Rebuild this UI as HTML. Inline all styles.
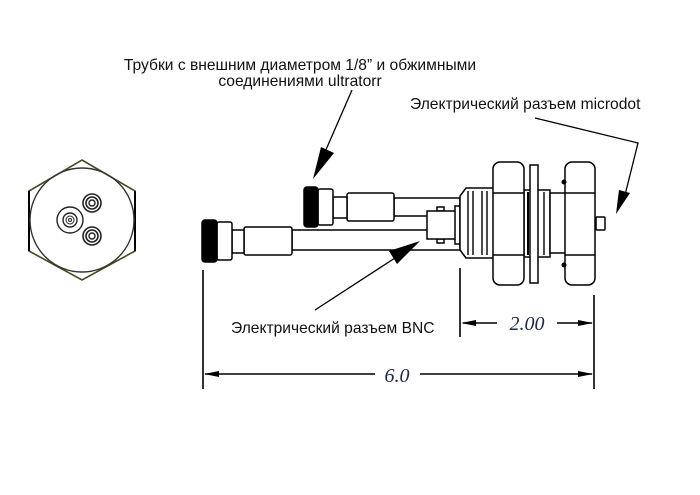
<!DOCTYPE html>
<html><head><meta charset="utf-8"><style>
html,body{margin:0;padding:0;background:#fff;}
svg{display:block;}
.lbl{font-family:"Liberation Sans",sans-serif;font-size:15.6px;fill:#111;}
.dim{font-family:"Liberation Serif",serif;font-style:italic;font-size:20px;fill:#1a2747;}
</style></head><body>
<svg width="700" height="495" viewBox="0 0 700 495" xmlns="http://www.w3.org/2000/svg">
<rect width="700" height="495" fill="#fff"/>
<!-- end view -->
<polygon points="82,160 135,191 135,251 82,280 29,251 29,191" fill="none" stroke="#4a4a20" stroke-width="1.6"/>
<line x1="29" y1="191" x2="29" y2="251" stroke="#000" stroke-width="2"/>
<line x1="135" y1="191" x2="135" y2="251" stroke="#000" stroke-width="2"/>
<circle cx="82" cy="220" r="52" fill="none" stroke="#333" stroke-width="1.4"/>
<g fill="none" stroke="#222">
<circle cx="70" cy="220" r="13" stroke-width="1.4"/>
<circle cx="70" cy="220" r="7" stroke-width="1.4"/>
<circle cx="70" cy="220" r="4" stroke-width="1"/>
<circle cx="70" cy="220" r="1.5" stroke-width="1"/>
<circle cx="92" cy="203" r="9" stroke-width="1.6"/>
<circle cx="92" cy="203" r="6" stroke-width="1.6"/>
<circle cx="92" cy="203" r="3" stroke-width="1.4"/>
<circle cx="92" cy="236" r="9" stroke-width="1.6"/>
<circle cx="92" cy="236" r="6" stroke-width="1.6"/>
<circle cx="92" cy="236" r="3" stroke-width="1.4"/>
</g>
<!-- side view -->
<g fill="#fff" stroke="#000" stroke-width="1.5">
<rect x="394" y="198" width="66" height="18"/>
<rect x="347" y="193" width="47" height="28" rx="2"/>
<rect x="333" y="197" width="14" height="21"/>
<rect x="318" y="189" width="15" height="36" rx="2"/>
<rect x="304" y="187" width="14" height="40" rx="3" fill="#000"/>
<rect x="292" y="230" width="168" height="20"/>
<rect x="244" y="227" width="48" height="28" rx="2"/>
<rect x="232" y="230" width="12" height="23"/>
<rect x="217" y="222" width="15" height="38" rx="2"/>
<rect x="202" y="220" width="15" height="42" rx="3" fill="#000"/>
<rect x="437" y="207" width="7" height="4"/>
<rect x="437" y="239" width="7" height="4"/>
<rect x="427" y="211" width="31" height="28"/>
<rect x="455" y="206" width="5" height="38"/>
<rect x="524" y="190" width="26" height="67"/>
<rect x="550" y="193" width="16" height="60"/>
<path d="M466,188 L495,188 L495,258 L466,258 L460,250 L460,196 Z"/>
<rect x="493" y="162" width="31" height="123" rx="7"/>
<rect x="530" y="165" width="8" height="118"/>
<rect x="565" y="162" width="30" height="123" rx="7"/>
<rect x="596" y="217" width="9" height="13" rx="1"/>
</g>
<g stroke="#000" stroke-width="1.4">
<line x1="468" y1="191" x2="468" y2="255"/><line x1="473" y1="191" x2="473" y2="255"/>
<line x1="482" y1="191" x2="482" y2="255"/><line x1="487" y1="191" x2="487" y2="255"/>
<line x1="493" y1="193" x2="524" y2="193"/><line x1="493" y1="255" x2="524" y2="255"/>
<line x1="565" y1="193" x2="595" y2="193"/><line x1="565" y1="255" x2="595" y2="255"/>
<line x1="528" y1="192" x2="528" y2="255" stroke-width="2"/>
<line x1="544" y1="192" x2="544" y2="255"/>
</g>
<circle cx="564" cy="182" r="2.5" fill="#000"/>
<circle cx="564" cy="265" r="2.5" fill="#000"/>
<!-- leaders -->
<line x1="352" y1="90" x2="325" y2="152" stroke="#000" stroke-width="1.3"/>
<polygon points="313,179 321,147 334,153" fill="#000"/>
<line x1="315" y1="310" x2="395" y2="258" stroke="#000" stroke-width="1.3"/>
<polygon points="420,241 389,251 397,264" fill="#000"/>
<polyline points="535,118 638,143 625,195" fill="none" stroke="#000" stroke-width="1.3"/>
<polygon points="616,214 619,190 630,193" fill="#000"/>
<!-- dimensions -->
<g stroke="#000" stroke-width="1.6">
<line x1="203" y1="270" x2="203" y2="389"/>
<line x1="460" y1="268" x2="460" y2="337"/>
<line x1="594" y1="295" x2="594" y2="389"/>
<line x1="463" y1="323" x2="497" y2="323"/>
<line x1="557" y1="323" x2="592" y2="323"/>
<line x1="205" y1="374" x2="375" y2="374"/>
<line x1="420" y1="374" x2="592" y2="374"/>
</g>
<g fill="#000">
<polygon points="461,323 476,320 476,326"/>
<polygon points="593,323 578,320 578,326"/>
<polygon points="204,374 219,371 219,377"/>
<polygon points="593,374 578,371 578,377"/>
</g>
<text class="dim" x="527" y="330" text-anchor="middle">2.00</text>
<text class="dim" x="397" y="382" text-anchor="middle">6.0</text>
<!-- labels -->
<text class="lbl" x="300" y="70" text-anchor="middle">Трубки с внешним диаметром 1/8” и обжимными</text>
<text class="lbl" x="300" y="86" text-anchor="middle">соединениями ultratorr</text>
<text class="lbl" x="410" y="109">Электрический разъем microdot</text>
<text class="lbl" x="231" y="333">Электрический разъем BNC</text>
</svg>
</body></html>
